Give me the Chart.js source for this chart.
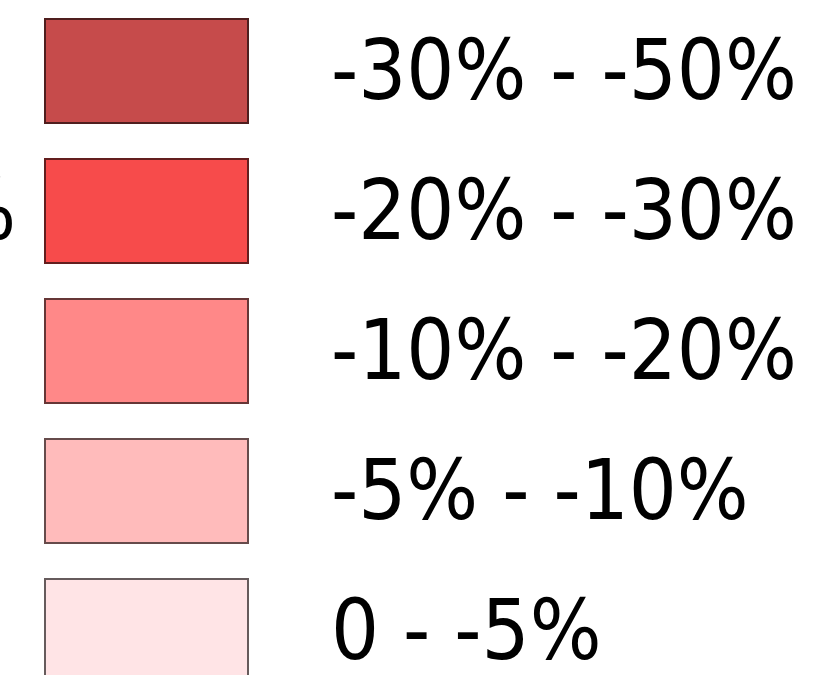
<!DOCTYPE html>
<html>
<head>
<meta charset="utf-8">
<title>Legend</title>
<script src="https://cdn.jsdelivr.net/npm/chart.js@4.4.1/dist/chart.umd.min.js"></script>
<style>
  html, body { margin: 0; padding: 0; background: #fff; overflow: hidden; }
  canvas { display: block; }
</style>
</head>
<body>
<canvas id="legendChart" width="813" height="720"></canvas>
<script>
// Legend classes (top to bottom)
const ranges = ['-30% - -50%', '-20% - -30%', '-10% - -20%', '-5% - -10%', '0 - -5%'];
const swatchColors = ['#c64b4b', '#f74b4b', '#ff8888', '#ffbbbb', '#ffe4e6'];
// every swatch is a full box
const swatchFill = [1, 1, 1, 1, 1];
// column to the left is cut off by the crop, only the end of one "%" shows
const clippedColumn = ['', '%', '', '', ''];

// border = swatch colour darkened
function darken(hex, k) {
    const n = parseInt(hex.slice(1), 16);
    const r = Math.round(((n >> 16) & 255) * k);
    const g = Math.round(((n >> 8) & 255) * k);
    const b = Math.round((n & 255) * k);
    return 'rgb(' + r + ',' + g + ',' + b + ')';
}

const labelFont = { family: '"DejaVu Sans Condensed", "DejaVu Sans", sans-serif', size: 84 };

// keep the big labels from pushing the chart area around
function fixAxis(width) {
    return (scale) => {
        scale.width = width;
        scale.paddingTop = 0;
        scale.paddingBottom = 0;
    };
}

const data = {
    labels: ranges,
    datasets: [{
        data: swatchFill,
        backgroundColor: swatchColors,
        borderColor: swatchColors.map(c => darken(c, 0.4)),
        borderWidth: 2,
        borderSkipped: false,
        barPercentage: 106 / 140,
        categoryPercentage: 1
    }]
};

const options = {
    responsive: false,
    animation: false,
    indexAxis: 'y',
    layout: { padding: { top: 1, bottom: 19, left: 0, right: 0 } },
    plugins: {
        legend: { display: false },
        tooltip: { enabled: false }
    },
    scales: {
        x: { display: false, min: 0, max: 1 },
        y: {
            position: 'right',
            grid: { display: false, drawTicks: false },
            border: { display: false },
            ticks: { color: '#000', font: labelFont, padding: 82, labelOffset: 6, autoSkip: false },
            afterFit: fixAxis(813 - 249)
        },
        y2: {
            type: 'category',
            labels: clippedColumn,
            position: 'left',
            offset: true,
            grid: { display: false, drawTicks: false },
            border: { display: false },
            ticks: { color: '#000', font: labelFont, padding: 28, labelOffset: 6, autoSkip: false },
            afterFit: fixAxis(44)
        }
    }
};

const ctx = document.getElementById('legendChart').getContext('2d');
const legendChart = new Chart(ctx, {
    type: 'bar',
    data: data,
    options: options
});
</script>
</body>
</html>
